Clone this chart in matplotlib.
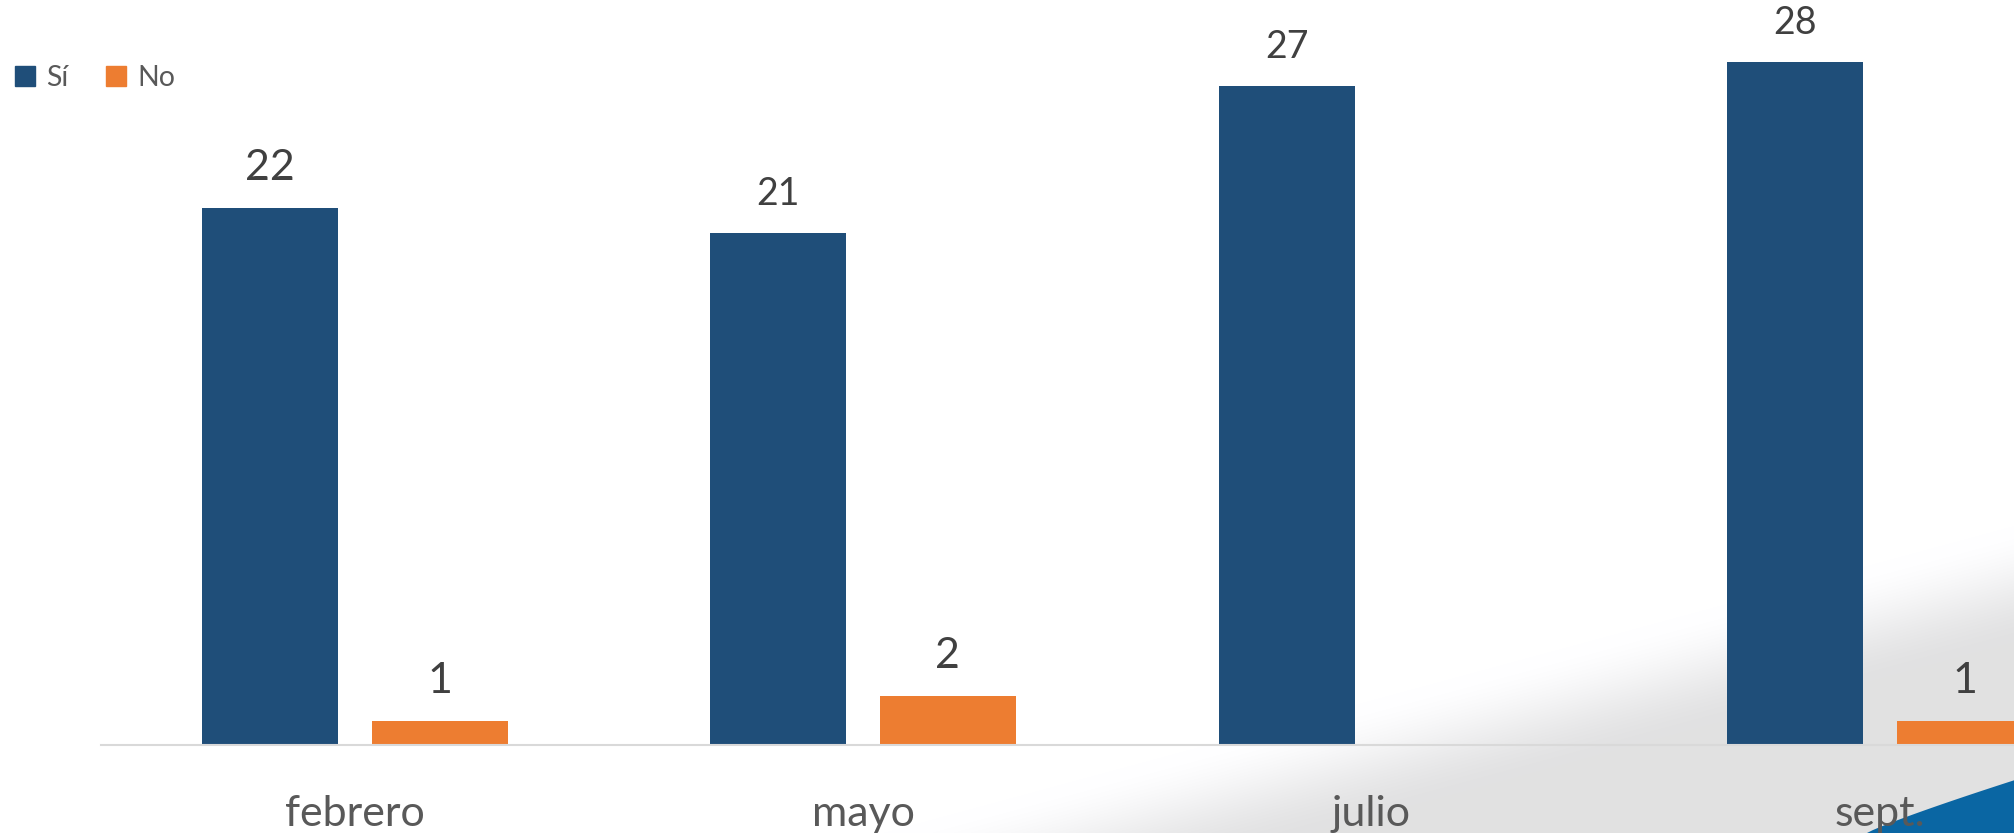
import numpy as np
import matplotlib
matplotlib.use('Agg')
import matplotlib.pyplot as plt
from matplotlib.patches import Patch, Polygon

months = ['febrero', 'mayo', 'julio', 'sept.']
si_values = [22, 21, 27, 28]
no_values = [1, 2, 0, 1]
series_names = ['Sí', 'No']

blue = '#1f4e79'
orange = '#ed7d31'
font = 'Lato'

width_px = 2015
height_px = 833
dpi = 100

fig = plt.figure(figsize=(width_px / dpi, height_px / dpi), dpi=dpi, facecolor='white')

# background decoration: soft grey sweep and blue swoosh bottom right
bg = fig.add_axes([0, 0, 1, 1], zorder=0)
yy, xx = np.mgrid[0:height_px, 0:width_px].astype(float)
x0, y0, x1, y1 = 880.0, 833.0, 2015.0, 525.0
edge_y = y0 + (xx - x0) * (y1 - y0) / (x1 - x0)
t = np.clip((yy - edge_y) / 120.0, 0, 1)
t = t * t * (3 - 2 * t)
shade = 1.0 - (30 / 255.0) * t
img = np.dstack([shade, shade, np.minimum(shade * 1.004, 1)])
bg.imshow(img, extent=(0, width_px, height_px, 0), aspect='auto', interpolation='bilinear')
sx = np.linspace(1867, 2015, 30)
sy = 833 - 53 * ((sx - 1867) / 148.0) ** 0.9
swoosh = Polygon(np.column_stack([np.r_[sx, 2015], np.r_[sy, 833]]), closed=True,
                 facecolor='#0a66a3', edgecolor='none')
bg.add_patch(swoosh)
bg.set_xlim(0, width_px)
bg.set_ylim(height_px, 0)
bg.axis('off')

ax = fig.add_axes([0, 88 / height_px, 1, 1 - 88 / height_px], zorder=1)
ax.patch.set_alpha(0)

x = np.arange(len(months))
bar_w = 0.2676
off = 0.1668
bars_si = ax.bar(x - off, si_values, bar_w, color=blue, label=series_names[0], zorder=2)
bars_no = ax.bar(x + off, no_values, bar_w, color=orange, label=series_names[1], zorder=2)

ax.set_xlim(-0.698, 3.266)
ax.set_ylim(0, 30.53)

label_sizes_si = [31, 27, 27, 27]
for rect, v, fs in zip(bars_si, si_values, label_sizes_si):
    ax.annotate(str(v), (rect.get_x() + rect.get_width() / 2, v), xytext=(0, 15),
                textcoords='offset points', ha='center', va='bottom',
                fontsize=fs, color='#404040', family=font)
for rect, v in zip(bars_no, no_values):
    if v == 0:
        continue
    ax.annotate(str(v), (rect.get_x() + rect.get_width() / 2, v), xytext=(0, 15),
                textcoords='offset points', ha='center', va='bottom',
                fontsize=31, color='#404040', family=font)

ax.set_xticks(x)
ax.set_xticklabels(months, fontsize=31, color='#595959', family=font)
ax.tick_params(axis='x', length=0, pad=36)
ax.set_yticks([])
for s in ['top', 'right', 'left']:
    ax.spines[s].set_visible(False)
ax.spines['bottom'].set_color('#d9d9d9')
ax.spines['bottom'].set_linewidth(1.5)
ax.spines['bottom'].set_bounds(-0.5, 3.5)

handles = [Patch(color=blue), Patch(color=orange)]
leg = fig.legend(handles, series_names, loc='center left', bbox_to_anchor=(15 / width_px, 1 - 78 / height_px),
                 ncol=2, frameon=False, handlelength=0.7, handleheight=0.7,
                 handletextpad=0.4, columnspacing=1.3, borderpad=0, borderaxespad=0,
                 prop={'family': font, 'size': 20.5})
for txt in leg.get_texts():
    txt.set_color('#595959')

fig.savefig('out.png', dpi=dpi)
